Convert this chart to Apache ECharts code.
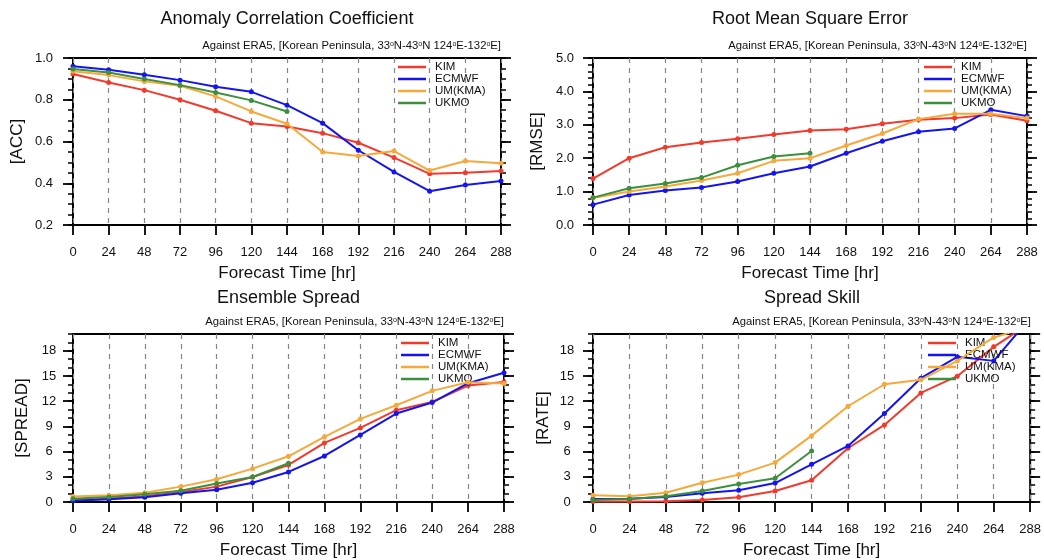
<!DOCTYPE html>
<html>
<head>
<meta charset="utf-8">
<script src="https://cdn.jsdelivr.net/npm/echarts@6/dist/echarts.min.js"></script>
<style>html,body{margin:0;padding:0;background:#fff}#c{width:1044px;height:560px}</style>
</head>
<body>
<div id="c"></div>
<script>
const hours = [0,24,48,72,96,120,144,168,192,216,240,264,288];
const modelNames = ['KIM','ECMWF','UM(KMA)','UKMO'];
const modelColors = ['#f23a2c','#1414f0','#f6a93b','#3c8f3c'];

const accKIM   = [0.923,0.883,0.846,0.800,0.747,0.688,0.672,0.640,0.594,0.523,0.445,0.450,0.459];
const accECMWF = [0.960,0.944,0.920,0.894,0.862,0.838,0.774,0.688,0.558,0.454,0.362,0.392,0.411];
const accUM    = [0.936,0.918,0.888,0.867,0.816,0.744,0.685,0.550,0.530,0.554,0.461,0.507,0.496];
const accUKMO  = [0.947,0.931,0.899,0.870,0.835,0.797,0.744];

const rmseKIM   = [1.39,2.00,2.33,2.47,2.58,2.71,2.83,2.87,3.03,3.15,3.20,3.31,3.12];
const rmseECMWF = [0.61,0.90,1.03,1.12,1.30,1.55,1.75,2.15,2.51,2.79,2.89,3.45,3.26];
const rmseUM    = [0.81,1.00,1.15,1.33,1.55,1.92,2.00,2.38,2.74,3.17,3.33,3.33,3.20];
const rmseUKMO  = [0.82,1.10,1.24,1.42,1.79,2.05,2.15];

const sprKIM   = [0.24,0.40,0.68,1.15,1.83,2.98,4.41,7.03,8.82,10.93,11.92,13.87,14.30];
const sprECMWF = [0.16,0.32,0.56,1.03,1.47,2.30,3.58,5.48,7.99,10.53,11.84,14.14,15.38];
const sprUM    = [0.64,0.79,1.11,1.83,2.70,3.97,5.44,7.75,9.89,11.52,13.23,14.26,14.10];
const sprUKMO  = [0.40,0.60,0.91,1.35,2.19,2.98,4.61];

const rateKIM   = [0.05,0.05,0.08,0.24,0.56,1.31,2.58,6.40,9.18,12.99,14.98,18.47,21.3];
const rateECMWF = [0.36,0.40,0.60,1.03,1.39,2.26,4.49,6.67,10.53,14.74,17.28,16.80,21.9];
const rateUM    = [0.79,0.68,1.11,2.30,3.26,4.69,7.90,11.40,14.02,14.54,16.80,19.59,20.9];
const rateUKMO  = [0.24,0.36,0.68,1.31,2.15,2.82,6.08];

const panelTitles = ['Anomaly Correlation Coefficient','Root Mean Square Error','Ensemble Spread','Spread Skill'];
const yNames = ['[ACC]','[RMSE]','[SPREAD]','[RATE]'];
const xName = 'Forecast Time [hr]';
const subTitle = 'Against ERA5, [Korean Peninsula, 33{s|o}N-43{s|o}N 124{s|o}E-132{s|o}E]';

const panelData = [
  [accKIM, accECMWF, accUM, accUKMO],
  [rmseKIM, rmseECMWF, rmseUM, rmseUKMO],
  [sprKIM, sprECMWF, sprUM, sprUKMO],
  [rateKIM, rateECMWF, rateUM, rateUKMO]
];

// layout (px)
const grids = [
  {left:73, top:58, width:428, height:167, tOff:39},
  {left:593, top:58, width:434, height:167, tOff:39},
  {left:73, top:334, width:431, height:169, tOff:36},
  {left:593, top:334, width:438, height:169, tOff:36}
];
const yScale = [
  {min:0.2, max:1.0, interval:0.2, minor:0.05, fmt:v=>v.toFixed(1), lm:29, ng:47},
  {min:0, max:5, interval:1, minor:0.2, fmt:v=>v.toFixed(1), lm:28, ng:47},
  {min:0, max:20, interval:3, minor:1, fmt:v=>String(v), lm:24, ng:42},
  {min:0, max:20, interval:3, minor:1, fmt:v=>String(v), lm:26, ng:41}
];

const FONT = 'Liberation Sans, Arial, Helvetica, sans-serif';
const TXT = '#111';

const option = {
  backgroundColor:'#fff',
  animation:false,
  grid: grids.map(g=>({left:g.left, top:g.top, width:g.width, height:g.height, show:true, borderColor:'#000', borderWidth:2, backgroundColor:'transparent'})),
  xAxis: grids.map((g,i)=>({
    type:'value', gridIndex:i, min:0, max:288, interval:24,
    axisLine:{show:false},
    axisTick:{show:true, inside:false, length:10, lineStyle:{color:'#000', width:1.8}},
    axisLabel:{fontSize:13, color:TXT, fontFamily:FONT, margin:21},
    splitLine:{show:true, lineStyle:{color:'#858585', type:[5,5], width:1.2}},
    name:xName, nameLocation:'middle', nameGap:40,
    nameTextStyle:{fontSize:17, color:TXT, fontFamily:FONT}
  })),
  yAxis: [],
  series: [],
  legend: grids.map((g,i)=>({
    orient:'vertical', left:g.left+g.width-108, top:g.top-2,
    icon:'rect', itemWidth:28, itemHeight:2.5, itemGap:0,
    selectedMode:false,
    data:modelNames,
    textStyle:{fontSize:11.5, lineHeight:12, color:TXT, fontFamily:FONT, padding:[0,0,0,4]}
  })),
  graphic: []
};

grids.forEach((g,i)=>{
  const s = yScale[i];
  const base = {type:'value', gridIndex:i, min:s.min, max:s.max, splitLine:{show:false}, axisLine:{show:false}};
  option.yAxis.push(Object.assign({}, base, {
    position:'left', interval:s.interval,
    axisTick:{show:true, length:10, lineStyle:{color:'#000', width:1.8}},
    axisLabel:{fontSize:13, color:TXT, fontFamily:FONT, margin:s.lm, align:'center', showMaxLabel: i<2, formatter:s.fmt},
    name:yNames[i], nameLocation:'middle', nameGap:s.ng,
    nameTextStyle:{fontSize:17, color:TXT, fontFamily:FONT}
  }));
  option.yAxis.push(Object.assign({}, base, {
    position:'left', interval:s.minor,
    axisTick:{show:true, length:5, lineStyle:{color:'#000', width:1.5}},
    axisLabel:{show:false}
  }));
  option.yAxis.push(Object.assign({}, base, {
    position:'right', interval:s.interval,
    axisTick:{show:true, length:10, lineStyle:{color:'#000', width:1.8}},
    axisLabel:{show:false}
  }));
  option.yAxis.push(Object.assign({}, base, {
    position:'right', interval:s.minor,
    axisTick:{show:true, length:5, lineStyle:{color:'#000', width:1.5}},
    axisLabel:{show:false}
  }));

  panelData[i].forEach((arr,k)=>{
    option.series.push({
      type:'line', name:modelNames[k], xAxisIndex:i, yAxisIndex:i*4,
      data: arr.map((v,j)=>[hours[j], v]),
      color:modelColors[k],
      lineStyle:{width:2, color:modelColors[k]},
      itemStyle:{color:modelColors[k]},
      symbol:'circle', symbolSize:5, showSymbol:true,
      clip:true, z:2+k
    });
  });

  const cx = g.left + g.width/2;
  option.graphic.push({
    type:'text', x:cx, y:g.top-g.tOff, z:10,
    style:{text:panelTitles[i], fontSize:18, fontFamily:FONT, fill:TXT, align:'center', verticalAlign:'middle'}
  });
  option.graphic.push({
    type:'text', x:g.left+g.width, y:g.top-12, z:10,
    style:{text:subTitle, fontSize:11.3, fontFamily:FONT, fill:TXT, align:'right', verticalAlign:'middle',
      rich:{s:{fontSize:7, fontFamily:FONT, fill:TXT, verticalAlign:'top', lineHeight:9}}}
  });
});

const chart = echarts.init(document.getElementById('c'), null, {renderer:'canvas'});
chart.setOption(option);
</script>
</body>
</html>
